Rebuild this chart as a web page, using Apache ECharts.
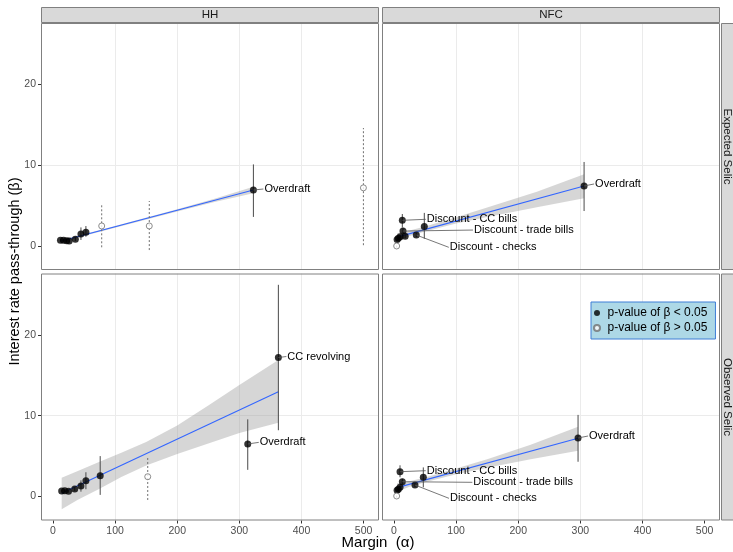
<!DOCTYPE html>
<html><head><meta charset="utf-8">
<script src="https://cdn.jsdelivr.net/npm/echarts@6/dist/echarts.min.js"></script>
<style>html,body{margin:0;padding:0;background:#fff}#c{width:733px;height:552px}</style>
</head><body><div id="c"></div>
<script>
// ---------------- data ----------------
const facetCols = ['HH', 'NFC'];
const facetRows = ['Expected Selic', 'Observed Selic'];
const xTicks = [0, 100, 200, 300, 400, 500];
const yTicks = [0, 10, 20];
const sigName = 'p-value of β < 0.05';
const nsName = 'p-value of β > 0.05';

// HH / Expected Selic
const hhExpSigX = [12, 17, 22, 26, 36, 45, 53, 322.6];
const hhExpSigY = [0.72, 0.70, 0.66, 0.62, 0.85, 1.50, 1.70, 6.93];
const hhExpSigLo = [0.55, 0.52, 0.48, 0.45, 0.62, 0.75, 1.15, 3.60];
const hhExpSigHi = [0.89, 0.88, 0.84, 0.80, 1.08, 2.30, 2.47, 10.10];
const hhExpSigLabel = ['', '', '', '', '', '', '', 'Overdraft'];
const hhExpNsX = [78.4, 155, 499.7];
const hhExpNsY = [2.48, 2.48, 7.20];
const hhExpNsLo = [-0.16, -0.50, 0.10];
const hhExpNsHi = [5.28, 5.57, 14.60];
const hhExpFitX = [12, 322.6];
const hhExpFitY = [0.58, 6.93];
const hhExpBandX = [12, 60, 100, 200, 260, 322.6];
const hhExpBandLo = [0.38, 1.45, 2.25, 4.28, 5.45, 6.52];
const hhExpBandHi = [0.78, 1.68, 2.47, 4.55, 5.85, 7.34];

// NFC / Expected Selic
const nfcExpSigX = [5, 7, 10, 13.4, 14.5, 18, 35.9, 48.8, 306];
const nfcExpSigY = [0.82, 0.95, 1.15, 3.18, 1.85, 1.20, 1.36, 2.40, 7.43];
const nfcExpSigLo = [0.60, 0.75, 0.90, 2.30, 1.45, 0.95, 1.10, 0.90, 4.33];
const nfcExpSigHi = [1.05, 1.15, 1.40, 3.96, 2.25, 1.45, 1.62, 4.10, 10.40];
const nfcExpSigLabel = ['', '', '', 'Discount - CC bills', 'Discount - trade bills', '', 'Discount - checks', '', 'Overdraft'];
const nfcExpNsX = [4.3];
const nfcExpNsY = [0.0];
const nfcExpNsLo = [-0.2];
const nfcExpNsHi = [0.2];
const nfcExpFitX = [5, 306];
const nfcExpFitY = [1.10, 7.43];
const nfcExpBandX = [5, 25, 50, 100, 150, 230, 306];
const nfcExpBandLo = [0.62, 1.25, 1.78, 2.78, 3.60, 4.80, 5.90];
const nfcExpBandHi = [1.58, 1.92, 2.40, 3.55, 4.75, 6.70, 8.87];

// HH / Observed Selic
const hhObsSigX = [14, 19, 25, 35, 45, 53, 76, 313.5, 362.8];
const hhObsSigY = [0.68, 0.72, 0.66, 0.93, 1.30, 1.96, 2.57, 6.50, 17.20];
const hhObsSigLo = [0.50, 0.55, 0.48, 0.70, 0.60, 0.90, 0.20, 3.30, 8.20];
const hhObsSigHi = [0.86, 0.90, 0.84, 1.16, 2.00, 3.00, 5.00, 9.55, 26.20];
const hhObsSigLabel = ['', '', '', '', '', '', '', 'Overdraft', 'CC revolving'];
const hhObsNsX = [152.5];
const hhObsNsY = [2.45];
const hhObsNsLo = [-0.43];
const hhObsNsHi = [5.00];
const hhObsFitX = [14, 362.8];
const hhObsFitY = [0.40, 12.97];
const hhObsBandX = [14, 40, 75, 110, 150, 200, 250, 300, 362.8];
const hhObsBandLo = [-1.58, -0.40, 0.95, 2.40, 3.85, 5.25, 6.55, 7.85, 9.13];
const hhObsBandHi = [2.33, 3.15, 4.30, 5.40, 6.75, 8.80, 11.25, 13.80, 16.90];

// NFC / Observed Selic
const nfcObsSigX = [5, 7, 9.7, 9.7, 13.4, 33.8, 47.2, 296.3];
const nfcObsSigY = [0.78, 0.89, 1.14, 3.07, 1.83, 1.42, 2.38, 7.24];
const nfcObsSigLo = [0.55, 0.65, 0.90, 2.38, 1.45, 1.15, 1.14, 4.30];
const nfcObsSigHi = [1.00, 1.12, 1.40, 3.86, 2.20, 1.70, 3.60, 10.10];
const nfcObsSigLabel = ['', '', '', 'Discount - CC bills', 'Discount - trade bills', 'Discount - checks', '', 'Overdraft'];
const nfcObsNsX = [4.3];
const nfcObsNsY = [0.06];
const nfcObsNsLo = [-0.15];
const nfcObsNsHi = [0.25];
const nfcObsFitX = [5, 296.3];
const nfcObsFitY = [1.10, 7.20];
const nfcObsBandX = [5, 25, 50, 100, 150, 220, 296.3];
const nfcObsBandLo = [0.60, 1.22, 1.75, 2.76, 3.55, 4.60, 5.67];
const nfcObsBandHi = [1.65, 1.90, 2.35, 3.48, 4.60, 6.40, 8.64];

// ---------------- layout / style ----------------
const FONT = '"Liberation Sans", Arial, sans-serif';
const panelLeft = [41, 382];
const panelTop = [23, 273.5];
const panelW = 338, panelH = 247;
const xMin = -19.3, xMax = 524.8;
const yMin = -2.97, yMax = 27.6;
// label offsets (px from point to label left-middle)
const labelOffsets = [
  { 'Overdraft': [11, -1] },
  { 'Overdraft': [11, -2], 'Discount - CC bills': [24.5, -1], 'Discount - trade bills': [71, -1], 'Discount - checks': [33.5, 12.3] },
  { 'Overdraft': [12, -1.6], 'CC revolving': [9, -1] },
  { 'Overdraft': [11, -2], 'Discount - CC bills': [26.7, -1], 'Discount - trade bills': [71, 0.6], 'Discount - checks': [35, 13.3] }
];

const panels = [
  { sx: hhExpSigX, sy: hhExpSigY, slo: hhExpSigLo, shi: hhExpSigHi, lab: hhExpSigLabel,
    nx: hhExpNsX, ny: hhExpNsY, nlo: hhExpNsLo, nhi: hhExpNsHi,
    fx: hhExpFitX, fy: hhExpFitY, bx: hhExpBandX, blo: hhExpBandLo, bhi: hhExpBandHi },
  { sx: nfcExpSigX, sy: nfcExpSigY, slo: nfcExpSigLo, shi: nfcExpSigHi, lab: nfcExpSigLabel,
    nx: nfcExpNsX, ny: nfcExpNsY, nlo: nfcExpNsLo, nhi: nfcExpNsHi,
    fx: nfcExpFitX, fy: nfcExpFitY, bx: nfcExpBandX, blo: nfcExpBandLo, bhi: nfcExpBandHi },
  { sx: hhObsSigX, sy: hhObsSigY, slo: hhObsSigLo, shi: hhObsSigHi, lab: hhObsSigLabel,
    nx: hhObsNsX, ny: hhObsNsY, nlo: hhObsNsLo, nhi: hhObsNsHi,
    fx: hhObsFitX, fy: hhObsFitY, bx: hhObsBandX, blo: hhObsBandLo, bhi: hhObsBandHi },
  { sx: nfcObsSigX, sy: nfcObsSigY, slo: nfcObsSigLo, shi: nfcObsSigHi, lab: nfcObsSigLabel,
    nx: nfcObsNsX, ny: nfcObsNsY, nlo: nfcObsNsLo, nhi: nfcObsNsHi,
    fx: nfcObsFitX, fy: nfcObsFitY, bx: nfcObsBandX, blo: nfcObsBandLo, bhi: nfcObsBandHi }
];

const grids = [], xAxes = [], yAxes = [], series = [], graphics = [];

panels.forEach((P, idx) => {
  const row = Math.floor(idx / 2), col = idx % 2;
  grids.push({ left: panelLeft[col], top: panelTop[row], width: panelW, height: panelH, show: false, containLabel: false });
  xAxes.push({
    gridIndex: idx, type: 'value', min: xMin, max: xMax, splitNumber: 5, position: 'bottom',
    axisLine: { show: false, onZero: false },
    axisTick: { show: row === 1, inside: false, length: 3, customValues: xTicks, lineStyle: { color: '#333', width: 1 } },
    axisLabel: { show: row === 1, customValues: xTicks, margin: 5, color: '#4d4d4d', fontSize: 10.5, fontFamily: FONT,
      formatter: v => xTicks.indexOf(v) >= 0 ? String(v) : '' },
    splitLine: { show: true, showMinLine: false, showMaxLine: false, lineStyle: { color: '#ebebeb', width: 1 } }
  });
  yAxes.push({
    gridIndex: idx, type: 'value', min: yMin, max: yMax, splitNumber: 3, position: 'left',
    axisLine: { show: false, onZero: false },
    axisTick: { show: col === 0, inside: false, length: 3, customValues: yTicks, lineStyle: { color: '#333', width: 1 } },
    axisLabel: { show: col === 0, customValues: yTicks, margin: 5, color: '#4d4d4d', fontSize: 10.5, fontFamily: FONT,
      formatter: v => yTicks.indexOf(v) >= 0 ? String(v) : '' },
    splitLine: { show: true, showMinLine: false, showMaxLine: false, lineStyle: { color: '#ebebeb', width: 1 } }
  });

  // confidence ribbon
  series.push({
    type: 'custom', xAxisIndex: idx, yAxisIndex: idx, z: 1, silent: true,
    data: P.bx.map((x, i) => [x, P.blo[i], P.bhi[i]]),
    renderItem: (params, api) => {
      if (params.dataIndex !== 0) return null;
      const up = P.bx.map((x, i) => api.coord([x, P.bhi[i]]));
      const lo = P.bx.map((x, i) => api.coord([x, P.blo[i]])).reverse();
      return { type: 'polygon', shape: { points: up.concat(lo) }, style: { fill: 'rgba(153,153,153,0.4)' } };
    }
  });
  // fit line
  series.push({
    type: 'line', xAxisIndex: idx, yAxisIndex: idx, z: 2, silent: true, showSymbol: false, symbol: 'none',
    data: P.fx.map((x, i) => [x, P.fy[i]]),
    lineStyle: { color: '#3366FF', width: 1.1 }
  });
  // error bars (significant)
  series.push({
    type: 'custom', xAxisIndex: idx, yAxisIndex: idx, z: 3, silent: true,
    data: P.sx.map((x, i) => [x, P.slo[i], P.shi[i]]),
    renderItem: (params, api) => {
      const a = api.coord([api.value(0), api.value(1)]);
      const b = api.coord([api.value(0), api.value(2)]);
      return { type: 'line', shape: { x1: a[0], y1: a[1], x2: b[0], y2: b[1] }, style: { stroke: '#4a4a4a', lineWidth: 1 } };
    }
  });
  // error bars (not significant)
  series.push({
    type: 'custom', xAxisIndex: idx, yAxisIndex: idx, z: 3, silent: true,
    data: P.nx.map((x, i) => [x, P.nlo[i], P.nhi[i]]),
    renderItem: (params, api) => {
      const a = api.coord([api.value(0), api.value(1)]);
      const b = api.coord([api.value(0), api.value(2)]);
      return { type: 'line', shape: { x1: a[0], y1: a[1], x2: b[0], y2: b[1] }, style: { stroke: '#707070', lineWidth: 1, lineDash: [2, 2] } };
    }
  });
  // points
  series.push({
    type: 'scatter', name: sigName, xAxisIndex: idx, yAxisIndex: idx, z: 4, silent: true,
    symbol: 'circle', symbolSize: 7,
    data: P.sx.map((x, i) => [x, P.sy[i]]),
    itemStyle: { color: '#000' }
  });
  series.push({
    type: 'scatter', name: nsName, xAxisIndex: idx, yAxisIndex: idx, z: 4, silent: true,
    symbol: 'circle', symbolSize: 6,
    data: P.nx.map((x, i) => [x, P.ny[i]]),
    itemStyle: { color: '#fff', borderColor: '#707070', borderWidth: 1 }
  });
  // labels with leader lines
  const offs = labelOffsets[idx];
  series.push({
    type: 'custom', xAxisIndex: idx, yAxisIndex: idx, z: 5, silent: true,
    data: P.sx.map((x, i) => [x, P.sy[i]]),
    renderItem: (params, api) => {
      const name = P.lab[params.dataIndex];
      if (!name) return null;
      const pt = api.coord([api.value(0), api.value(1)]);
      const o = offs[name];
      const tx = pt[0] + o[0], ty = pt[1] + o[1];
      return { type: 'group', children: [
        { type: 'line', shape: { x1: pt[0], y1: pt[1], x2: tx - 1, y2: ty }, style: { stroke: '#555', lineWidth: 0.8 } },
        { type: 'text', x: tx, y: ty, style: { text: name, fill: '#000', fontSize: 11, fontFamily: FONT, align: 'left', verticalAlign: 'middle' } }
      ] };
    }
  });
});

// panel borders, strips, titles
for (let r = 0; r < 2; r++) for (let c = 0; c < 2; c++) {
  graphics.push({ type: 'rect', z: 100, silent: true,
    shape: { x: panelLeft[c] + 0.5, y: panelTop[r] + 0.5, width: panelW - 1, height: panelH - 1 },
    style: { fill: 'none', stroke: '#808080', lineWidth: 1 } });
}
facetCols.forEach((t, c) => {
  graphics.push({ type: 'rect', z: 100, silent: true,
    shape: { x: panelLeft[c] + 0.5, y: 7.5, width: panelW - 1, height: 15 },
    style: { fill: '#d9d9d9', stroke: '#808080', lineWidth: 1 } });
  graphics.push({ type: 'text', z: 101, silent: true, x: panelLeft[c] + panelW / 2, y: 15,
    style: { text: t, fill: '#1a1a1a', fontSize: 11.5, fontFamily: FONT, align: 'center', verticalAlign: 'middle' } });
});
facetRows.forEach((t, r) => {
  graphics.push({ type: 'rect', z: 100, silent: true,
    shape: { x: 721.5, y: panelTop[r] + 0.5, width: 18, height: panelH - 1 },
    style: { fill: '#d9d9d9', stroke: '#808080', lineWidth: 1 } });
  graphics.push({ type: 'text', z: 101, silent: true, x: 727.5, y: panelTop[r] + panelH / 2, rotation: -Math.PI / 2,
    style: { text: t, fill: '#1a1a1a', fontSize: 11.5, fontFamily: FONT, align: 'center', verticalAlign: 'middle' } });
});
graphics.push({ type: 'text', silent: true, x: 15, y: 271.5, rotation: Math.PI / 2,
  style: { text: 'Interest rate pass-through (β)', fill: '#000', fontSize: 14.5, fontFamily: FONT, align: 'center', verticalAlign: 'middle' } });
graphics.push({ type: 'text', silent: true, x: 378, y: 543,
  style: { text: 'Margin  (α)', fill: '#000', fontSize: 15, fontFamily: FONT, align: 'center', verticalAlign: 'middle' } });

const chart = echarts.init(document.getElementById('c'), null, { renderer: 'canvas' });
chart.setOption({
  animation: false,
  backgroundColor: '#fff',
  grid: grids, xAxis: xAxes, yAxis: yAxes, series: series,
  graphic: { elements: graphics },
  legend: {
    data: [sigName, nsName], orient: 'vertical', left: 591, top: 302,
    backgroundColor: '#add8e6', borderColor: '#3f7fd6', borderWidth: 1,
    padding: [5, 8, 5, 2], itemGap: 3, itemWidth: 11, itemHeight: 6, selectedMode: false,
    textStyle: { fontSize: 12, color: '#000', fontFamily: FONT }
  }
});
</script></body></html>
